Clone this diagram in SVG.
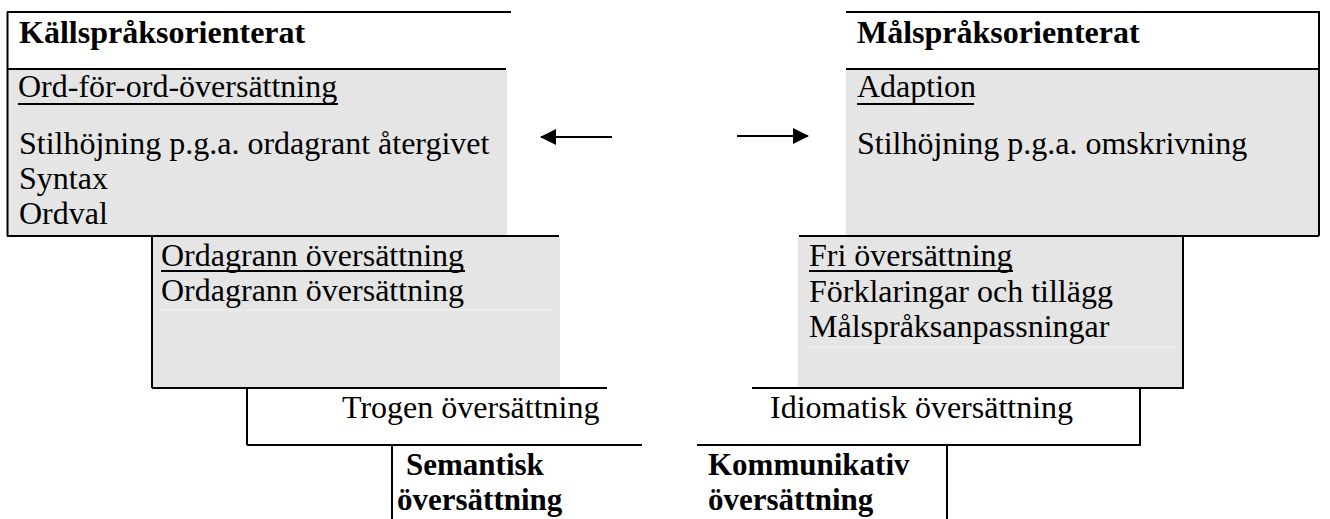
<svg xmlns="http://www.w3.org/2000/svg" width="1330" height="519" viewBox="0 0 1330 519">
<defs>
<style>
text{font-family:"Liberation Serif","Times New Roman",serif;font-size:32px;fill:#000}
.b{font-weight:bold}
.bs{font-weight:bold;font-size:31px}
.fill{fill:#e5e5e5;stroke:none}
.ln{stroke:#000;stroke-width:2;fill:none}
.ul{stroke:#000;stroke-width:1.8}
.faint{stroke:#f3f3f3;stroke-width:1.2}
</style>
<marker id="ahb" markerWidth="16" markerHeight="16" refX="15" refY="8" orient="auto" markerUnits="userSpaceOnUse" viewBox="0 0 16 16">
<path d="M0,0 L16,8 L0,16 L0,0 Z" fill="#000"/>
</marker>
</defs>
<rect width="1330" height="519" fill="#fff"/>

<g id="kallsprak">
<rect class="fill" x="8" y="70" width="499" height="165"/>
<path class="ln" d="M7,12 H511 M7.5,12 V236 M7,69 H506"/>
<text class="b" x="19" y="43">Källspråksorienterat</text>
<text x="18" y="97">Ord-för-ord-översättning</text>
<line class="ul" x1="18" y1="104" x2="338" y2="104"/>
<text x="19" y="154">Stilhöjning p.g.a. ordagrant återgivet</text>
<text x="19" y="189">Syntax</text>
<text x="19" y="224">Ordval</text>
</g>

<g id="malsprak">
<rect class="fill" x="846" y="70" width="472" height="165"/>
<path class="ln" d="M846,12 H1320 M1319,12 V236 M846,69 H1319"/>
<text class="b" x="857" y="43">Målspråksorienterat</text>
<text x="857" y="97">Adaption</text>
<line class="ul" x1="857" y1="104" x2="974" y2="104"/>
<text x="857" y="154">Stilhöjning p.g.a. omskrivning</text>
</g>

<g id="ordagrann">
<rect class="fill" x="153" y="237" width="407" height="150"/>
<line class="faint" x1="160" y1="310" x2="551" y2="310"/>
<path class="ln" d="M7,236 H559 M152,236 V388 M152,388 H607"/>
<text x="161" y="266">Ordagrann översättning</text>
<line class="ul" x1="161" y1="271" x2="465" y2="271"/>
<text x="161" y="301">Ordagrann översättning</text>
</g>

<g id="fri">
<rect class="fill" x="798" y="237" width="384" height="150"/>
<line class="faint" x1="809" y1="347" x2="1175" y2="347"/>
<path class="ln" d="M799,236 H1319 M1183,236 V388 M752,388 H1184"/>
<text x="809" y="266">Fri översättning</text>
<line class="ul" x1="809" y1="271" x2="1013" y2="271"/>
<text x="809" y="302">Förklaringar och tillägg</text>
<text x="809" y="337">Målspråksanpassningar</text>
</g>

<g id="trogen">
<path class="ln" d="M247,388 V445 M247,445 H642"/>
<text x="342" y="418">Trogen översättning</text>
</g>

<g id="idiomatisk">
<path class="ln" d="M1140,388 V445 M697,445 H1141"/>
<text x="770" y="418">Idiomatisk översättning</text>
</g>

<g id="semantisk">
<path class="ln" d="M392,445 V519"/>
<text class="bs" x="406" y="475">Semantisk</text>
<text class="bs" x="397" y="510">översättning</text>
</g>

<g id="kommunikativ">
<path class="ln" d="M947,445 V519"/>
<text class="bs" x="708" y="475">Kommunikativ</text>
<text class="bs" x="708" y="510">översättning</text>
</g>

<g id="connectors">
<line x1="612" y1="137" x2="541" y2="137" stroke="#000" stroke-width="2" marker-end="url(#ahb)"/>
<line x1="737" y1="136" x2="808" y2="136" stroke="#000" stroke-width="2" marker-end="url(#ahb)"/>
</g>
</svg>
